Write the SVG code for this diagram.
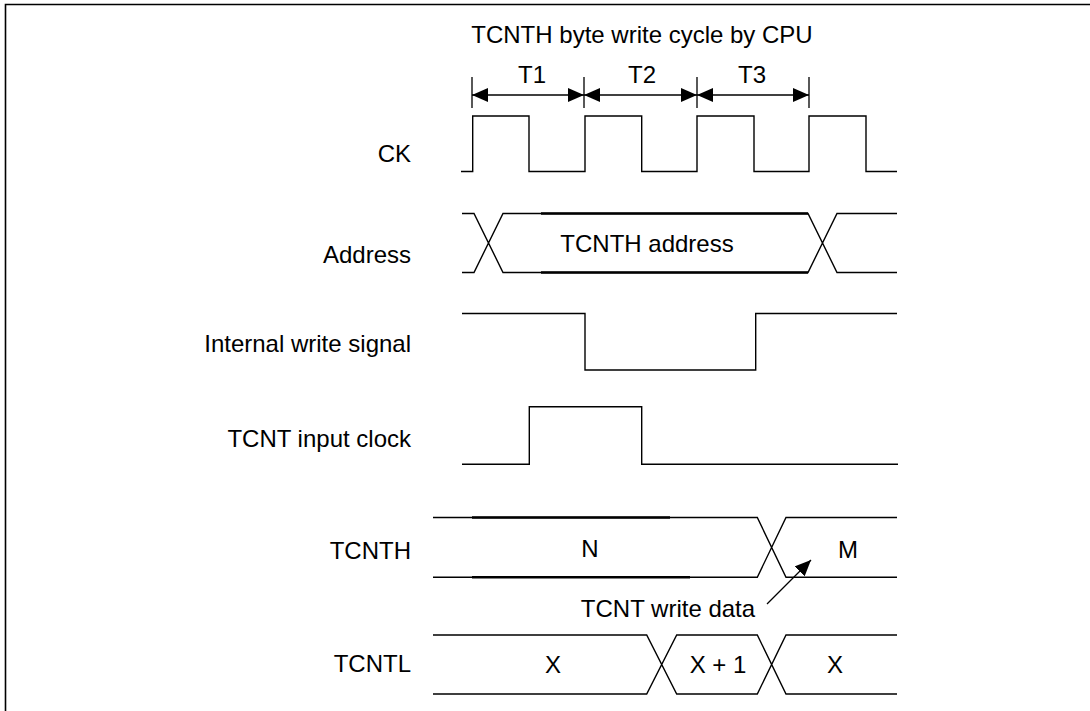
<svg xmlns="http://www.w3.org/2000/svg" width="1090" height="711" viewBox="0 0 1090 711">
<defs>
<style>
.sig{fill:none;stroke:#000;stroke-width:1.4;stroke-linejoin:miter}
.thk{fill:none;stroke:#000;stroke-width:2.4}
.dim{fill:none;stroke:#000;stroke-width:1.3}
text{font-family:"Liberation Sans",Arial,sans-serif;font-size:24px;fill:#000}
.lbl{text-anchor:end}
.mid{text-anchor:middle}
</style>
<marker id="ah" viewBox="0 0 16 14" refX="16" refY="7" markerWidth="16" markerHeight="14" markerUnits="userSpaceOnUse" orient="auto-start-reverse">
<path d="M0,0 L16,7 L0,14 Z" fill="#000"/>
</marker>
</defs>
<rect width="1090" height="711" fill="#fff"/>
<path d="M5.5,711 V4.5 H1090" fill="none" stroke="#000" stroke-width="1.6"/>

<g id="title">
<text class="mid" x="642" y="43">TCNTH byte write cycle by CPU</text>
</g>

<g id="dimensions">
<path class="dim" d="M472,77 V108 M584,77 V108 M697,77 V108 M809,77 V108"/>
<line class="dim" x1="472" y1="95" x2="584" y2="95" marker-start="url(#ah)" marker-end="url(#ah)"/>
<line class="dim" x1="584" y1="95" x2="697" y2="95" marker-start="url(#ah)" marker-end="url(#ah)"/>
<line class="dim" x1="697" y1="95" x2="809" y2="95" marker-start="url(#ah)" marker-end="url(#ah)"/>
<text class="mid" x="532" y="83">T1</text>
<text class="mid" x="642" y="83">T2</text>
<text class="mid" x="752" y="83">T3</text>
</g>

<g id="ck">
<text class="lbl" x="411" y="162">CK</text>
<path class="sig" d="M461,171.5 H472.7 V116 H529 V171.5 H585 V116 H641.7 V171.5 H697 V116 H754 V171.5 H809 V116 H866 V171.5 H897"/>
</g>

<g id="address">
<text class="lbl" x="411" y="263">Address</text>
<path class="sig" d="M462,213.5 H474 L503,272.5 H808 L837,213.5 H897 M462,272.5 H474 L503,213.5 H808 L837,272.5 H897"/>
<path class="thk" d="M541,213.5 H808 M541,272.5 H808"/>
<text class="mid" x="647" y="252">TCNTH address</text>
</g>

<g id="write">
<text class="lbl" x="411" y="352">Internal write signal</text>
<path class="sig" d="M462,313.5 H585 V370 H755.7 V313.5 H897"/>
</g>

<g id="tcntclk">
<text class="lbl" x="411" y="447">TCNT input clock</text>
<path class="sig" d="M462,464.3 H529.3 V406.7 H641.7 V464.3 H898"/>
</g>

<g id="tcnth">
<text class="lbl" x="411" y="559">TCNTH</text>
<path class="sig" d="M433,517.5 H757.3 L786,577.3 H897 M433,577.3 H757.3 L786,517.5 H897"/>
<path class="thk" d="M472,517.5 H670 M472,577.3 H690"/>
<text class="mid" x="590" y="557">N</text>
<text class="mid" x="848" y="558">M</text>
</g>

<g id="tcntl">
<text class="lbl" x="411" y="672">TCNTL</text>
<path class="sig" d="M433,635 H646.7 L676.7,694 H757.3 L786,635 H897 M433,694 H646.7 L676.7,635 H757.3 L786,694 H897"/>
<text class="mid" x="553" y="673">X</text>
<text class="mid" x="718" y="673">X + 1</text>
<text class="mid" x="835" y="673">X</text>
</g>

<g id="connectors">
<line class="dim" x1="767" y1="604" x2="811" y2="560" marker-end="url(#ah)"/>
<text class="mid" x="668" y="617">TCNT write data</text>
</g>
</svg>
